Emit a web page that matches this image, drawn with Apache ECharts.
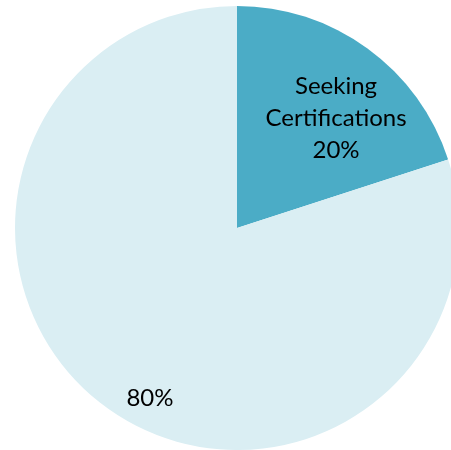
<!DOCTYPE html>
<html><head><meta charset="utf-8">
<script src="https://cdn.jsdelivr.net/npm/echarts@6/dist/echarts.min.js"></script>
<style>html,body{margin:0;padding:0;background:#fff}#c{width:451px;height:450px}</style>
</head><body><div id="c"></div>
<script>
const categories = ["Seeking Certifications", "Not Seeking Certifications"];
const values = [20, 80];
const labelTexts = ["Seeking\nCertifications\n20%", "80%"];
const colors = ["#4BACC6", "#DAEEF3"];
const labelOffsets = [[32, -18], [-20, 78]];

const chart = echarts.init(document.getElementById('c'), null, {renderer: 'canvas'});
chart.setOption({
  animation: false,
  series: [{
    type: 'pie',
    center: [237, 228],
    radius: 222,
    startAngle: 90,
    clockwise: true,
    silent: true,
    itemStyle: {borderWidth: 0},
    label: {
      position: 'inside',
      fontFamily: 'Lato',
      fontSize: 24,
      lineHeight: 32,
      color: '#000',
      align: 'center'
    },
    labelLine: {show: false},
    data: categories.map((n, i) => ({
      name: n,
      value: values[i],
      itemStyle: {color: colors[i]},
      label: {formatter: labelTexts[i], offset: labelOffsets[i]}
    }))
  }]
});
</script></body></html>
